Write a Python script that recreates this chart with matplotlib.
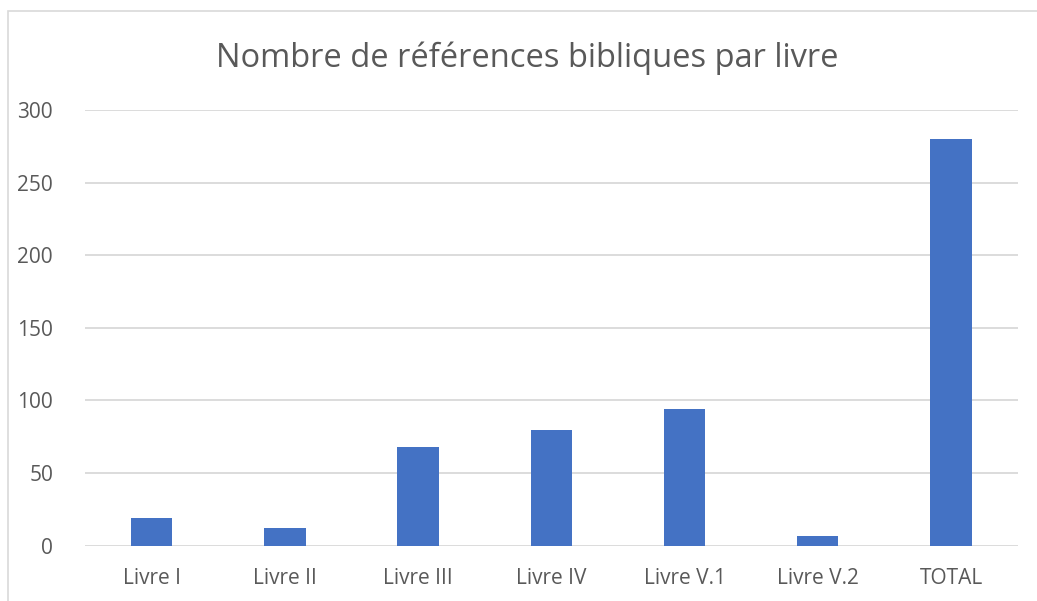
# Nombre de références bibliques par livre - bar chart
import matplotlib.pyplot as plt
from matplotlib.patches import Rectangle
import numpy as np

# data
livres = ['Livre I', 'Livre II', 'Livre III', 'Livre IV', 'Livre V.1', 'Livre V.2', 'TOTAL']
references = [19, 12, 68, 80, 94, 7, 280]
yticks = [0, 50, 100, 150, 200, 250, 300]

text_color = '#595959'
grid_color = '#D9D9D9'
bar_color = '#4472C4'

plt.rcParams['font.family'] = ['Open Sans', 'DejaVu Sans']

W, H = 1037, 601
fig = plt.figure(figsize=(W / 100, H / 100), dpi=100)
ax = fig.add_axes([85 / W, 1 - 545.7 / H, (1017.7 - 85) / W, (545.7 - 110) / H])

x = np.arange(len(livres))
ax.bar(x, references, width=0.31, color=bar_color, zorder=3)

ax.set_xlim(-0.5, len(livres) - 0.5)
ax.set_ylim(0, 300)
ax.set_yticks(yticks)
ax.set_xticks(x)
ax.set_xticklabels(livres)
ax.yaxis.grid(True, color=grid_color, linewidth=1.3, zorder=0)
ax.set_axisbelow(True)
for s in ax.spines.values():
  s.set_visible(False)
ax.tick_params(axis='both', length=0, labelsize=15, colors=text_color)
ax.tick_params(axis='y', pad=23)
ax.tick_params(axis='x', pad=16)

fig.text(527 / W, 1 - 58 / H, 'Nombre de références bibliques par livre',
         ha='center', va='center', fontsize=23.5, color=text_color)

# chart border (right/bottom edges fall outside the image)
fig.add_artist(Rectangle((8 / W, -0.1), 1.2, 1 - 11 / H + 0.1, transform=fig.transFigure,
                         fill=False, edgecolor=grid_color, linewidth=1.2))

fig.savefig('out.png', dpi=100)
